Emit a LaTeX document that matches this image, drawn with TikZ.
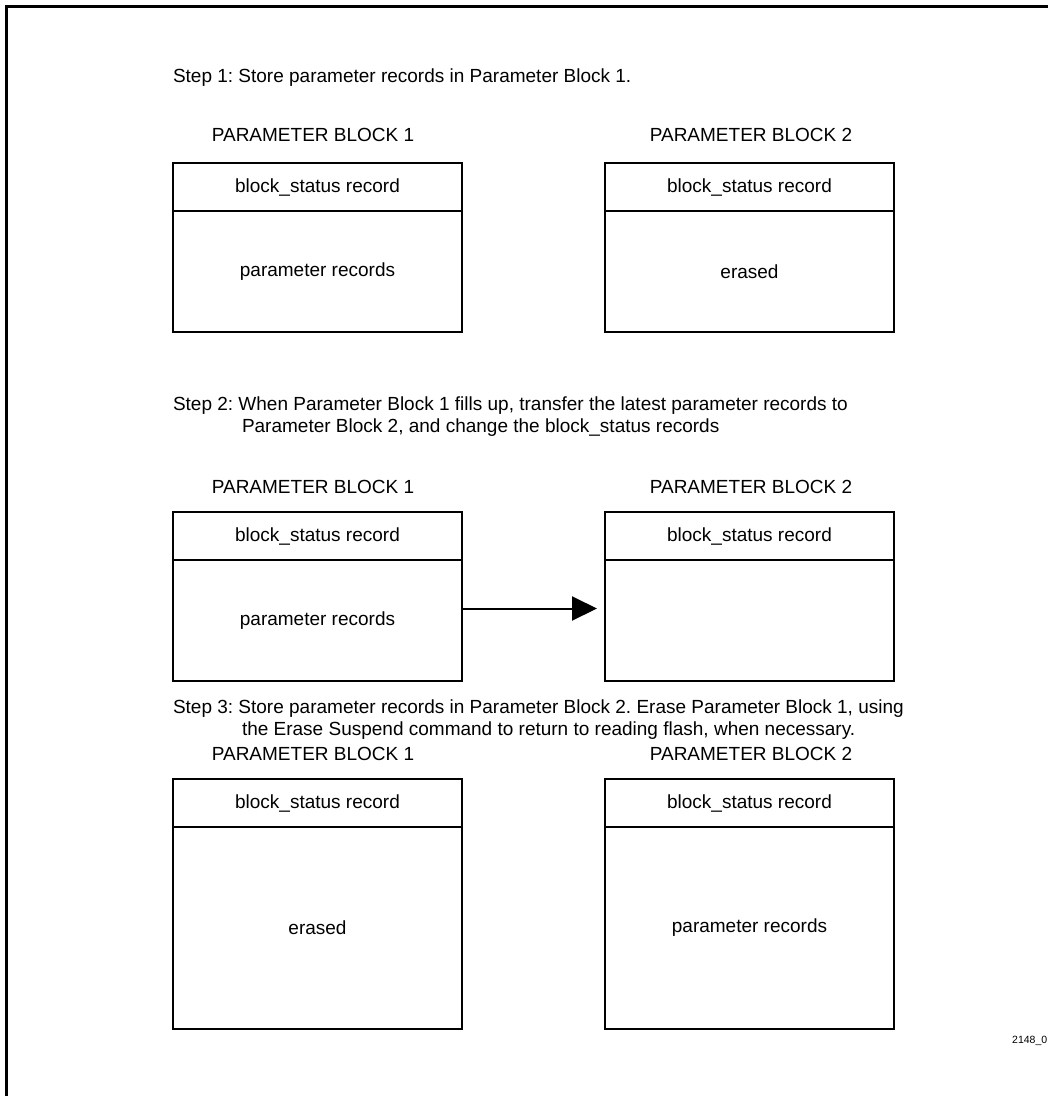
\documentclass[tikz,border=0pt]{standalone}
\usepackage{fontspec}
\setmainfont{Liberation Sans}
\usetikzlibrary{positioning,arrows.meta}
\frenchspacing
\tikzset{
  txt/.style={font=\fontsize{19}{23}\selectfont, inner sep=0pt, outer sep=0pt},
  hdr/.style={txt, draw, line width=2pt, minimum width=289pt, minimum height=48pt, anchor=north west},
  body/.style={txt, draw, line width=2pt, minimum width=289pt, minimum height=#1},
  body/.default=121pt
}
\begin{document}
\begin{tikzpicture}[x=1pt,y=-1pt]
            \useasboundingbox (0,0) rectangle (1048,1096);
            \draw[line width=3pt] (6,1096) -- (6,6) -- (1048,6); % frame

            % step 1
            \node[txt, anchor=base west] (s1) at (173,82) {Step 1: Store parameter records in Parameter Block 1.};
            \node[txt, anchor=base] (lab1a) at (313,141) {PARAMETER BLOCK 1};
            \node[txt, anchor=base] (lab1b) at (751,141) {PARAMETER BLOCK 2};
            \node[hdr] (h1a) at (173,163) {block\_status record};
            \node[body, below=0pt of h1a] (b1a) {parameter records};
            \node[hdr] (h1b) at (605,163) {block\_status record};
            \node[body, below=0pt of h1b] (b1b) {erased};

            % step 2
            \node[txt, anchor=base west] (s2a) at (173,410) {Step 2: When Parameter Block 1 fills up, transfer the latest parameter records to};
            \node[txt, anchor=base west] (s2b) at (242,432) {Parameter Block 2, and change the block\_status records};
            \node[txt, anchor=base] (lab2a) at (313,493) {PARAMETER BLOCK 1};
            \node[txt, anchor=base] (lab2b) at (751,493) {PARAMETER BLOCK 2};
            \node[hdr] (h2a) at (173,512) {block\_status record};
            \node[body, below=0pt of h2a] (b2a) {parameter records};
            \node[hdr] (h2b) at (605,512) {block\_status record};
            \node[body, below=0pt of h2b] (b2b) {};
            \draw[line width=2pt, -{Triangle[length=25pt,width=24pt]}, shorten >=8pt]
                ([yshift=12pt]b2a.east) -- ([yshift=12pt]b2b.west);

            % step 3
            \node[txt, anchor=base west] (s3a) at (173,713) {Step 3: Store parameter records in Parameter Block 2. Erase Parameter Block 1, using};
            \node[txt, anchor=base west] (s3b) at (242,735) {the Erase Suspend command to return to reading flash, when necessary.};
            \node[txt, anchor=base] (lab3a) at (313,760) {PARAMETER BLOCK 1};
            \node[txt, anchor=base] (lab3b) at (751,760) {PARAMETER BLOCK 2};
            \node[hdr] (h3a) at (173,779) {block\_status record};
            \node[body=202pt, below=0pt of h3a] (b3a) {erased};
            \node[hdr] (h3b) at (605,779) {block\_status record};
            \node[body=202pt, below=0pt of h3b] (b3b) {parameter records};

            \node[font=\fontsize{10.5}{12}\selectfont, inner sep=0pt, anchor=base west] (fig) at (1012,1043) {2148\_0};
        \end{tikzpicture}
\end{document}
